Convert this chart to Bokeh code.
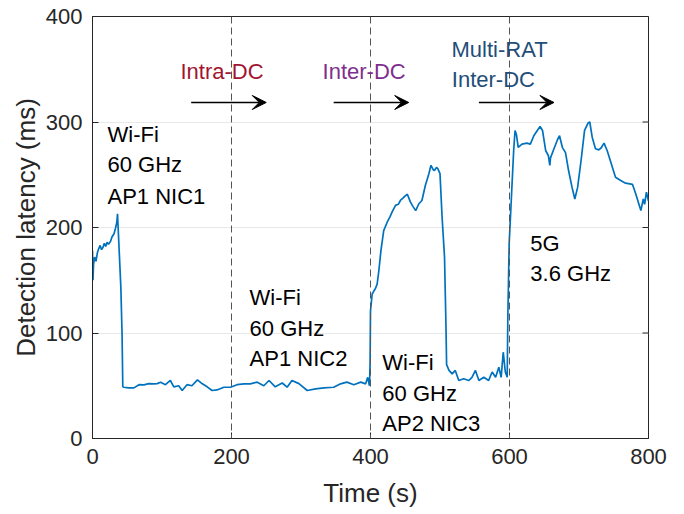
import math
from bokeh.plotting import figure
from bokeh.models import Range1d, Span, Arrow, VeeHead, FixedTicker, Label
from bokeh.embed import file_html
from bokeh.resources import INLINE

# ---- data ----
time_s = [0, 0.7, 1.5, 3, 5, 7, 9, 11, 13, 15, 17, 19, 21, 23, 26, 28, 31, 33, 35, 36,
          38.4, 40.8, 42.5, 43.6, 45, 52, 59.5, 67, 74, 81, 88, 93, 98, 105, 112, 117,
          124, 129, 136, 143, 151, 158, 165, 172, 179, 189, 198.6, 208, 218, 227, 237,
          246.5, 254, 263, 273, 280, 287, 297, 309, 321, 333, 347, 357, 366, 376, 386,
          393, 396, 398.5, 399.4, 400, 402.4, 405, 407, 409.6, 412, 415, 419, 424, 428,
          431, 436, 440, 443, 447, 450, 453, 457.5, 461, 465, 469.6, 474, 479, 484, 487,
          490, 492, 495, 497, 500, 503, 506.5, 508.5, 509.5, 513, 517.5, 522, 527, 534,
          541.5, 546, 551, 556, 563, 570, 575, 580, 584.6, 588, 591, 594, 596.7, 597.6,
          599.5, 603, 606, 608, 610, 612.5, 618, 625, 630, 635, 640, 644, 647.5, 652,
          656, 658, 659, 664, 668.6, 672, 676, 680.6, 685, 690, 694, 698, 703, 708, 713,
          715.5, 719, 723.7, 728.5, 732, 736, 740.5, 745, 752.5, 760, 767, 777, 781.6,
          789, 792.5, 794.4, 797, 800]
latency_ms = [178, 150, 165, 172, 168, 176, 180, 183, 179, 181, 185, 182, 186, 184, 187,
              191, 194, 199, 205, 213, 178, 143, 100, 49, 48.6, 48, 48, 51, 50.9, 52,
              51.8, 52, 53.4, 51, 55, 49, 50, 45.5, 51, 50, 55.6, 51.8, 49, 45.5, 46,
              48.6, 48.6, 51, 51.8, 51.8, 53.4, 50, 55, 49, 52.6, 48.6, 55, 52, 45.5, 47,
              48, 48.6, 51.8, 53.4, 51, 53.4, 51.8, 58, 50, 70, 121, 137, 140, 142, 146.6,
              159, 178, 197, 205, 210, 214.5, 221, 222, 225.6, 228, 230, 231.5, 224, 220,
              216, 222.5, 225.6, 240, 251, 259, 255, 254, 257, 255.6, 251, 210, 172, 110,
              70, 64.5, 61.3, 64.5, 55, 56.6, 55, 58, 64.5, 55, 58, 55, 63, 58, 67.6, 58,
              81.8, 63, 58, 115, 184.5, 232, 273, 292, 288, 276, 279, 280, 279, 287, 292,
              295.7, 292, 273, 268, 258.8, 266, 274.6, 282.5, 287, 276, 271, 254, 238,
              227, 238, 263.5, 292, 299, 300, 285.6, 274.6, 273.6, 275.6, 280, 273, 263.5,
              247.7, 244.5, 242, 240.8, 232, 216, 227, 222, 233.5, 225]
x_ticks = [0, 200, 400, 600, 800]
y_ticks = [0, 100, 200, 300, 400]
handover_times = [200, 400, 600]

FONT = "Liberation Sans"
AX = "#262626"
X_MAX, Y_MAX = 800, 400

p = figure(width=684, height=514, output_backend="svg", toolbar_location=None,
           x_range=Range1d(0, X_MAX), y_range=Range1d(0, Y_MAX),
           min_border_left=92, min_border_right=36, min_border_top=16,
           min_border_bottom=76, background_fill_color="white",
           border_fill_color="white")

p.outline_line_color = AX
p.outline_line_width = 1
p.xgrid.visible = False
p.ygrid.ticker = FixedTicker(ticks=y_ticks)
p.ygrid.grid_line_color = "#e8e8e8"
p.ygrid.grid_line_width = 1

for ax in (p.xaxis[0], p.yaxis[0]):
    ax.major_label_text_font = FONT
    ax.major_label_text_font_size = "22px"
    ax.major_label_text_color = AX
    ax.axis_label_text_font = FONT
    ax.axis_label_text_font_size = "26px"
    ax.axis_label_text_font_style = "normal"
    ax.axis_label_text_color = AX
    ax.axis_line_color = AX
    ax.major_tick_line_color = AX
    ax.major_tick_in = 6
    ax.major_tick_out = 0
    ax.minor_tick_line_color = None

p.xaxis[0].ticker = FixedTicker(ticks=x_ticks)
p.yaxis[0].ticker = FixedTicker(ticks=y_ticks)
p.xaxis[0].axis_label = "Time (s)"
p.yaxis[0].axis_label = "Detection latency (ms)"
p.xaxis[0].major_label_standoff = 10
p.xaxis[0].axis_label_standoff = 11
p.yaxis[0].major_label_standoff = 10
p.yaxis[0].axis_label_standoff = 2

# mirrored ticks on top and right edges (box style)
p.ray(x=x_ticks, y=[Y_MAX] * len(x_ticks), length=6, angle=-math.pi / 2,
      length_units="screen", line_color=AX, line_width=1)
p.ray(x=[X_MAX] * len(y_ticks), y=y_ticks, length=6, angle=math.pi,
      length_units="screen", line_color=AX, line_width=1)

for t in handover_times:
    p.add_layout(Span(location=t, dimension="height", line_color="#555555",
                      line_width=1, line_dash="7 4"))

p.line(time_s, latency_ms, line_color="#0072BD", line_width=1.7)

def lab(x, y, text, color="black"):
    p.add_layout(Label(x=x, y=y, text=text, text_font=FONT, text_font_size="22px",
                       text_color=color, text_baseline="middle", text_align="left"))

lab(21.6, 288, "Wi-Fi"); lab(21.6, 259.7, "60 GHz"); lab(21.6, 229.4, "AP1 NIC1")
lab(226, 133.6, "Wi-Fi"); lab(226, 104.3, "60 GHz"); lab(226, 75.8, "AP1 NIC2")
lab(417, 72, "Wi-Fi"); lab(417, 42.7, "60 GHz"); lab(417, 14.2, "AP2 NIC3")
lab(630, 185, "5G"); lab(630, 156.4, "3.6 GHz")
lab(126.6, 348, "Intra-DC", "#A2142F")
lab(331, 348, "Inter-DC", "#7E2F8E")
lab(516.5, 368.7, "Multi-RAT", "#1F4E79")
lab(517, 340, "Inter-DC", "#1F4E79")

for xs, xe in ((142, 250), (347, 455), (556, 664)):
    p.add_layout(Arrow(x_start=xs, y_start=318.5, x_end=xe, y_end=318.5,
                       line_color="black", line_width=1.5,
                       end=VeeHead(size=14, fill_color="black", line_color="black")))

open("out.html", "w").write(file_html(p, INLINE))
